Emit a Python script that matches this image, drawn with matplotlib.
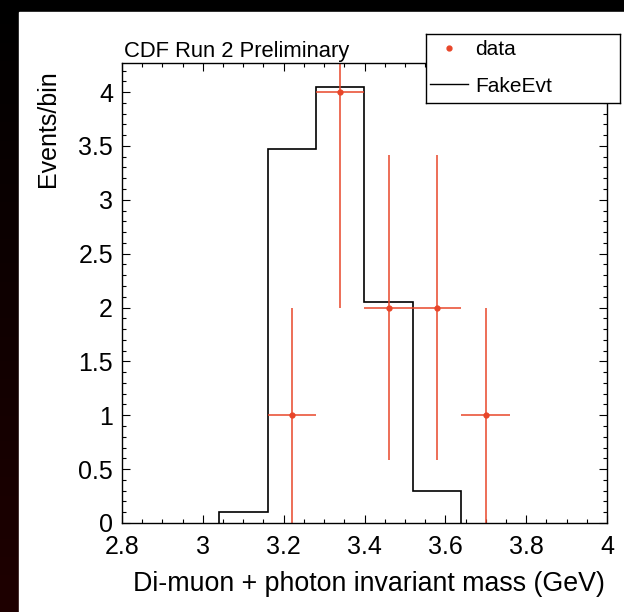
import numpy as np
import matplotlib
matplotlib.use("Agg")
import matplotlib.pyplot as plt
from matplotlib.lines import Line2D
from matplotlib.patches import Rectangle

# -------- DATA --------
# FakeEvt histogram (bin edges and contents)
fake_edges = [3.04, 3.16, 3.28, 3.40, 3.52, 3.64]
fake_counts = [0.1, 3.47, 4.05, 2.05, 0.3]

# data points (bin centres, counts)
data_x = [3.22, 3.34, 3.46, 3.58, 3.70]
data_y = [1, 4, 2, 2, 1]
data_xerr = 0.06
data_yerr = np.sqrt(data_y)

red = "#e8462a"

plt.rcParams["font.family"] = ["Liberation Sans", "DejaVu Sans"]

W, H = 624, 612
fig = plt.figure(figsize=(W / 100, H / 100), dpi=100)
fig.patch.set_facecolor("black")

# -------- BACKGROUND (black frame, dark red fade on the left) --------
bg = fig.add_axes([0, 0, 1, 1], zorder=-10)
grad = np.zeros((100, 2, 3))
grad[:, :, 0] = np.linspace(0.0, 0.12, 100)[:, None]
bg.imshow(grad, aspect="auto", extent=[0, 1, 0, 1], origin="upper")
bg.add_patch(Rectangle((19 / W, 0), 1, 1 - 12 / H, color="white"))
bg.set_xlim(0, 1)
bg.set_ylim(0, 1)
bg.axis("off")

# -------- MAIN PLOT --------
ax = fig.add_axes([122 / W, 1 - 523 / H, 485 / W, 460 / H])
ax.stairs(fake_counts, fake_edges, baseline=0, color="black", linewidth=1.2)
ax.errorbar(data_x, data_y, xerr=data_xerr, yerr=data_yerr, fmt="o",
            color=red, markersize=3.5, elinewidth=1.1, capsize=0)

ax.set_xlim(2.8, 4.0)
ax.set_ylim(0, 4.27)
ax.set_xticks(np.arange(2.8, 4.01, 0.2))
ax.set_xticklabels(["2.8", "3", "3.2", "3.4", "3.6", "3.8", "4"])
ax.set_xticks(np.arange(2.8, 4.001, 0.05), minor=True)
ax.set_yticks(np.arange(0, 4.01, 0.5))
ax.set_yticklabels(["0", "0.5", "1", "1.5", "2", "2.5", "3", "3.5", "4"])
ax.set_yticks(np.arange(0, 4.27, 0.1), minor=True)

ax.tick_params(which="both", direction="in", top=True, right=True, width=0.8)
ax.tick_params(which="major", length=6)
ax.tick_params(which="minor", length=3)
ax.tick_params(axis="x", labelsize=18, pad=8.5)
ax.tick_params(axis="y", labelsize=18, pad=6.5)
for s in ax.spines.values():
    s.set_linewidth(1.0)

ax.set_xlabel("Di-muon + photon invariant mass (GeV)", fontsize=19.3, loc="right")
ax.xaxis.set_label_coords(0.996, -0.104)
ax.set_ylabel("Events/bin", fontsize=18, loc="top")
ax.yaxis.set_label_coords(-0.128, 0.985)

fig.text(124 / W, 1 - 57 / H, "CDF Run 2 Preliminary", fontsize=15.8,
         va="baseline", ha="left")

# -------- LEGEND --------
leg_box = fig.add_axes([426 / W, 1 - 103 / H, 194 / W, 69 / H], zorder=30)
leg_box.set_facecolor("white")
for s in leg_box.spines.values():
    s.set_linewidth(1.0)
leg_box.set_xticks([])
leg_box.set_yticks([])
handles = [Line2D([], [], marker="o", linestyle="none", color=red, markersize=3.5),
           Line2D([], [], color="black", linewidth=1.0)]
leg_box.legend(handles, ["data", "FakeEvt"], loc="upper left",
               bbox_to_anchor=(4 / 194, 1 - 6 / 69), frameon=False, fontsize=15,
               handlelength=1.8, handletextpad=0.35, labelspacing=0.85,
               borderpad=0, borderaxespad=0)

fig.savefig("out.png", dpi=100, facecolor=fig.get_facecolor())
